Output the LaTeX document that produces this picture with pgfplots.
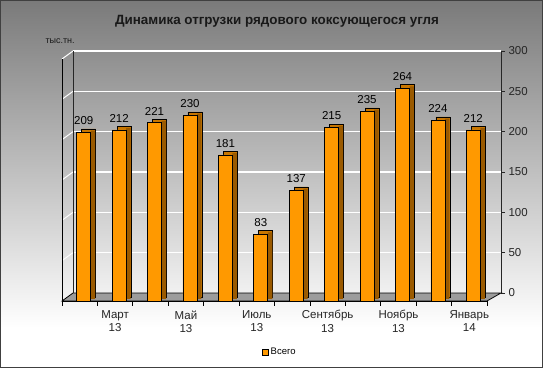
\documentclass[border=0pt]{standalone}
\usepackage{pgfplots}
\usepackage{pgfplotstable}
\pgfplotsset{compat=1.18}
\usepackage{fontspec}
\setmainfont{Liberation Sans}
\definecolor{barfront}{HTML}{FF9900}
\definecolor{bartop}{HTML}{C87600}
\definecolor{barside}{HTML}{9A5A00}
\definecolor{floorc}{HTML}{9C9C9C}
\definecolor{bgtop}{HTML}{7A7A7A}
\definecolor{axc}{HTML}{262626}
\pgfplotstableread{
x y
1 209
2 212
3 221
4 230
5 181
6 83
7 137
8 215
9 235
10 264
11 224
12 212
}\shipdata
\begin{document}
\begin{tikzpicture}
\useasboundingbox (0,0) rectangle (543bp,368bp);
\fill[white] (0,0) rectangle (543bp,368bp);
\shade[top color=bgtop, bottom color=white] (0,40bp) rectangle (543bp,368bp);
% back wall with right axis
\begin{axis}[at={(73bp,75bp)}, anchor=south west, scale only axis,
  width=428bp, height=242bp,
  xmin=0.5, xmax=12.5, ymin=0, ymax=300, clip=false,
  axis x line=none, axis y line*=right,
  axis line style={-, draw=axc, line width=0.9bp},
  ytick={0,50,...,300}, ymajorgrids,
  grid style={white, line width=1.1bp},
  tick align=outside, major tick length=4bp,
  tick style={axc, line width=0.9bp},
  yticklabel style={font=\fontsize{11.5bp}{13bp}\selectfont, text=black!85},
  /pgf/number format/assume math mode=true,
]
\pgfplotsinvokeforeach{50,100,150,200,250,300}{
  \draw[white, line width=1bp] (axis cs:0.5,#1) -- ++(-11bp,-8bp);
}
\draw[axc, line width=0.9bp] (axis cs:0.5,0) -- (axis cs:0.5,300);
\draw[black, line width=0.9bp] (axis cs:0.5,300) ++(-11bp,-8bp) -- ++(0bp,-242bp);
\filldraw[fill=floorc, draw=black, line width=0.8bp] (axis cs:0.5,0) -- (axis cs:12.5,0) -- ++(-14bp,-8bp) -- ++(-425bp,0bp) -- cycle;
\end{axis}
% bar top faces (shifted back)
\begin{axis}[at={(67bp,70.5bp)}, anchor=south west, scale only axis,
  width=425bp, height=242bp,
  xmin=0.5, xmax=12.5, ymin=0, ymax=300, clip=false,
  axis lines=none, ybar, bar width=14bp, bar shift=4bp]
\addplot[fill=bartop, draw=black, line width=0.6bp] table[x=x,y=y]{\shipdata};
\end{axis}
% bar side faces
\begin{axis}[at={(62bp,68.75bp)}, anchor=south west, scale only axis,
  width=425bp, height=242bp,
  xmin=0.5, xmax=12.5, ymin=0, ymax=300, clip=false,
  axis lines=none, ybar, bar width=4.4bp, bar shift=13.3bp]
\addplot[fill=barside, draw=none] table[x=x,y=y]{\shipdata};
\end{axis}
% bar fronts
\begin{axis}[at={(62bp,67bp)}, anchor=south west, scale only axis,
  width=425bp, height=242bp,
  xmin=0.5, xmax=12.5, ymin=0, ymax=300, clip=false,
  axis y line=none, axis x line*=bottom,
  axis line style={-, black, line width=0.8bp},
  xtick={2,4,...,12},
  xticklabels={{Март\\13},{Май\\13},{Июль\\13},{Сентябрь\\13},{Ноябрь\\13},{Январь\\14}},
  xticklabel style={align=center, font=\fontsize{11.5bp}{13.5bp}\selectfont, text=black!85, yshift=-6bp},
  tick align=outside, major tick length=0bp,
  extra x ticks={0.5,1.5,...,12.5}, extra x tick labels={},
  extra x tick style={major tick length=5bp, tick style={black, line width=0.8bp}},
  ybar, bar width=14bp, bar shift=4bp,
  /pgf/number format/assume math mode=true,
  nodes near coords,
  every node near coord/.append style={font=\fontsize{11.5bp}{13bp}\selectfont, text=black, yshift=4bp},
  legend style={at={(0.513,-0.211)}, anchor=center, draw=none, fill=none,
    font=\fontsize{9.5bp}{11bp}\selectfont, inner sep=1bp},
  legend image code/.code={\draw[#1, line width=0.6bp] (0bp,-2.8bp) rectangle (5.6bp,2.8bp);},
]
\addplot[fill=barfront, draw=black, line width=0.6bp] table[x=x,y=y]{\shipdata};
\legend{Всего}
\end{axis}
\node[font=\bfseries\fontsize{13.4bp}{15bp}\selectfont, text=black!90] at (277bp,347bp) {Динамика отгрузки рядового коксующегося угля};
\node[font=\fontsize{9bp}{10bp}\selectfont, anchor=base west, text=black!90] at (42bp,324bp) {тыс.тн.};
\draw[black!75, line width=1bp] (0.5bp,0.5bp) rectangle (542.5bp,367.5bp);
\end{tikzpicture}
\end{document}
